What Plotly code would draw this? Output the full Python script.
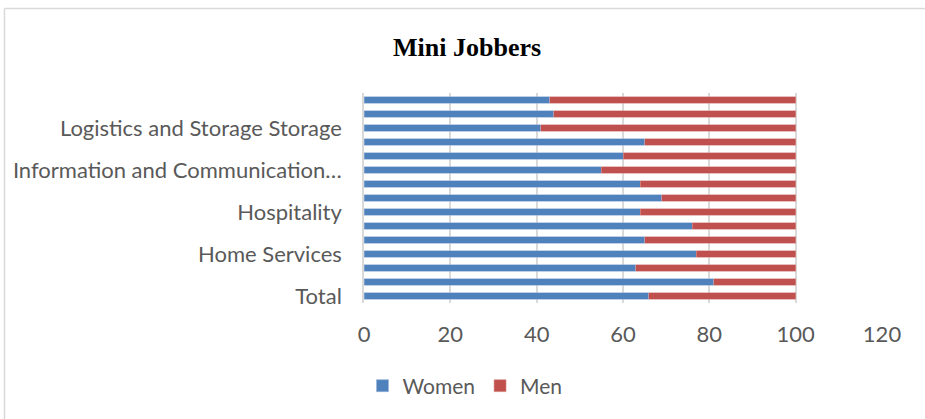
import plotly.graph_objects as go

# Categories from bottom to top (only every third label is displayed in the original)
categories = [
    "Total", "Trade", "Other Services", "Home Services", "Health and Social Work",
    "Education", "Hospitality", "Finance and Insurance", "Manufacturing",
    "Information and Communication…", "Real Estate", "Public Administration",
    "Logistics and Storage Storage", "Construction", "Agriculture",
]
shown_labels = ["Total", "Home Services", "Hospitality",
                "Information and Communication…", "Logistics and Storage Storage"]
women = [66, 81, 63, 77, 65, 76, 64, 69, 64, 55, 60, 65, 41, 44, 43]
men = [100 - w for w in women]
x_ticks = [0, 20, 40, 60, 80, 100, 120]

W, H = 925, 419
L, R, T, B = 364, 43, 93, 116
pw, ph = W - L - R, H - T - B

fig = go.Figure()
fig.add_trace(go.Bar(y=categories, x=women, name="Women", orientation="h",
                     marker=dict(color="#4F81BD", line=dict(color="#95B3D7", width=0.6))))
fig.add_trace(go.Bar(y=categories, x=men, name="Men", orientation="h",
                     marker=dict(color="#C0504D", line=dict(color="#D99694", width=0.6))))

font_main = "Lato, Calibri, Carlito, sans-serif"
bx0 = (4.5 - L) / pw
by1 = (H - B - 8.5) / ph
fig.update_layout(
    width=W, height=H, barmode="stack", bargap=0.57,
    margin=dict(l=L, r=R, t=T, b=B, autoexpand=False),
    paper_bgcolor="white", plot_bgcolor="white",
    title=dict(text="<b>Mini Jobbers</b>", x=0.505, xanchor="center",
               y=1 - 47 / H, yanchor="middle",
               font=dict(family="Liberation Serif, Times New Roman, serif", size=26, color="black")),
    xaxis=dict(range=[0, 120], tickvals=x_ticks, showgrid=True, gridcolor="#D9D9D9",
               gridwidth=1.5, zeroline=False, showline=False, ticks="",
               tickfont=dict(family=font_main, size=22, color="#595959"),
               ticklabelstandoff=16),
    yaxis=dict(type="category", categoryorder="array", categoryarray=categories,
               tickvals=shown_labels, ticktext=shown_labels, showgrid=False,
               zeroline=False, showline=True, linecolor="#D9D9D9", linewidth=1.5, ticks="",
               tickfont=dict(family=font_main, size=22, color="#595959"),
               ticklabelstandoff=16),
    legend=dict(orientation="h", x=(465 - L) / pw, xanchor="center",
                y=(H - B - 386) / ph, yanchor="middle",
                font=dict(family=font_main, size=21, color="#595959"),
                itemwidth=30, traceorder="normal", tracegroupgap=0),
    showlegend=True,
    shapes=[
        dict(type="line", xref="paper", yref="paper", x0=bx0, x1=(W - L) / pw,
             y0=by1, y1=by1, line=dict(color="#D9D9D9", width=1.5), layer="below"),
        dict(type="line", xref="paper", yref="paper", x0=bx0, x1=bx0,
             y0=by1, y1=-B / ph, line=dict(color="#D9D9D9", width=1.5), layer="below"),
    ],
)

fig.write_html("out.html")
